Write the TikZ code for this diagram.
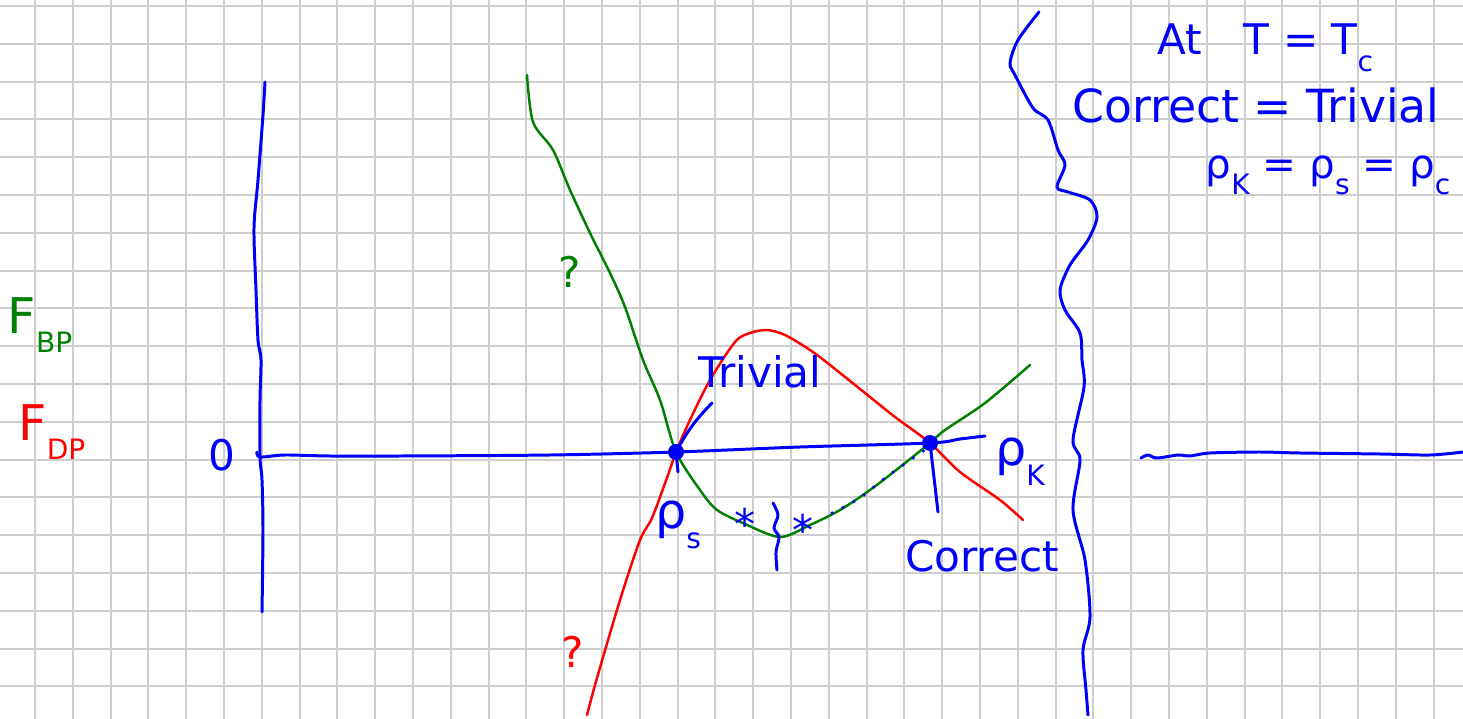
\documentclass[tikz,border=0pt]{standalone}
\usepackage{fontspec}
\setmainfont{DejaVu Sans}
\usepackage{tikz}
\usetikzlibrary{positioning}
\definecolor{inkblue}{RGB}{0, 0, 250}
\definecolor{inkgreen}{RGB}{0, 128, 0}
\definecolor{inkred}{RGB}{255, 0, 0}
\definecolor{gridgray}{RGB}{206, 206, 206}
\newcommand{\lowsub}[1]{\raisebox{-0.4em}{\fontsize{16}{18}\selectfont #1}}

\begin{document}
\begin{tikzpicture}[x=0.02cm, y=-0.02cm,
    ink/.style={line width=1.7pt, line cap=round, line join=round},
    curve/.style={line width=1.4pt, line cap=round, line join=round},
    hand/.style={font=\fontsize{24}{28}\selectfont, inner sep=0pt},
    big/.style={font=\fontsize{28}{32}\selectfont, inner sep=0pt},
    dot/.style={circle, fill=inkblue, inner sep=0pt, minimum size=0.32cm}
]
    \fill[white] (0,0) rectangle (1463,719);
    \useasboundingbox (0,0) rectangle (1463,719);
    \foreach \k in {0,...,37}
        \draw[gridgray, line width=1.1pt] (35+37.8*\k,0) -- (35+37.8*\k,719);
    \foreach \k in {0,...,18}
        \draw[gridgray, line width=1.1pt] (0,6+37.8*\k) -- (1463,6+37.8*\k);

    \coordinate (S) at (676,452);
    \coordinate (K) at (930,443);
    \coordinate (O) at (260,457);

    \draw[ink, inkblue] plot[smooth] coordinates {(265,82) (263,115) (258,180)
        (254,228) (256,290) (258,340) (261,360) (260,400) (O) (262,480) (263,530) (262,612)};
    \draw[ink, inkblue] plot[smooth] coordinates {(257,452) (O) (285,455) (330,456)
        (400,456) (550,455) (S) (800,447) (K) (960,439) (985,436)};
    \draw[ink, inkblue] plot[smooth] coordinates {(1141,458) (1148,455) (1157,458)
        (1178,455) (1190,456) (1210,453) (1260,452) (1300,453) (1380,454) (1430,455) (1463,452)};
    \draw[ink, inkblue] plot[smooth] coordinates {(1039,12) (1018,40) (1010,63)
        (1015,75) (1033,108) (1048,120) (1058,150) (1065,165) (1057,187) (1068,192)
        (1090,200) (1097,217) (1088,240) (1070,265) (1060,290) (1065,310) (1080,333)
        (1082,360) (1084,387) (1073,440) (1080,460) (1073,510) (1085,560) (1090,617)
        (1083,650) (1086,690) (1088,715)};

    \draw[curve, inkgreen] plot[smooth] coordinates {(527,75) (533,122) (553,150)
        (570,190) (590,233) (610,273) (625,307) (643,360) (660,400) (S)
        (700,490) (717,510) (745,524) (780,537) (810,525) (840,510) (870,490) (900,467)
        (K) (945,430) (985,403) (1030,365)};
    \draw[curve, inkred] plot[smooth] coordinates {(587,715) (597,678) (620,600)
        (640,540) (652,518) (668,475) (S) (690,420) (710,380) (735,342)
        (750,333) (767,330) (785,335) (810,350) (830,365) (865,393) (895,417)
        (K) (960,472) (1000,500) (1023,520)};

    \node[dot] (rhoS) at (S) {};
    \node[dot] (rhoK) at (K) {};
    \coordinate (tickS) at (712,403);
    \coordinate (tickSdown) at (678,472);
    \coordinate (tickK) at (938,512);
    \draw[ink, inkblue] (rhoS.center) to[bend left=8] (tickS);
    \draw[ink, inkblue] (rhoS.center) -- (tickSdown);
    \draw[ink, inkblue] (rhoK.center) -- (tickK);
    \draw[ink, inkblue] plot[smooth] coordinates {(773,503) (778,515) (774,528)
        (779,537) (776,552) (777,570)};
    \draw[inkblue, line width=2pt, line cap=round, dash pattern=on 0pt off 7pt]
        plot[smooth] coordinates {(832,513) (860,498) (885,478) (913,458) (925,450)};

    \node[hand, inkblue] (star1) at (745,524) {*};
    \node[hand, inkblue] (star2) at (803,530) {*};
    \node[hand, inkgreen] (qBP) at (570,272) {?};
    \node[hand, inkred] (qDP) at (573,652) {?};
    \node[hand, inkblue] (zero) at (222,455) {0};
    \node[hand, inkblue] (triv) at (760,372) {Trivial};
    \node[hand, inkblue] (corr) at (982,556) {Correct};
    \node[big, inkblue] (labS) at (678,525) {ρ\lowsub{s}};
    \node[big, inkblue] (labK) at (1020,462) {ρ\lowsub{K}};
    \node[big, inkgreen] (fBP) at (40,325) {F\lowsub{BP}};
    \node[big, inkred] (fDP) at (52,432) {F\lowsub{DP}};

    \node[hand, inkblue] (note1) at (1265,48) {At\quad T = T\lowsub{c}};
    \node[hand, inkblue, font=\fontsize{26}{30}\selectfont] (note2) at (1256,105)
        {Correct = Trivial};
    \node[hand, inkblue, font=\fontsize{23}{28}\selectfont] (note3) at (1328,175)
        {ρ\lowsub{K} = ρ\lowsub{s} = ρ\lowsub{c}};
\end{tikzpicture}
\end{document}
